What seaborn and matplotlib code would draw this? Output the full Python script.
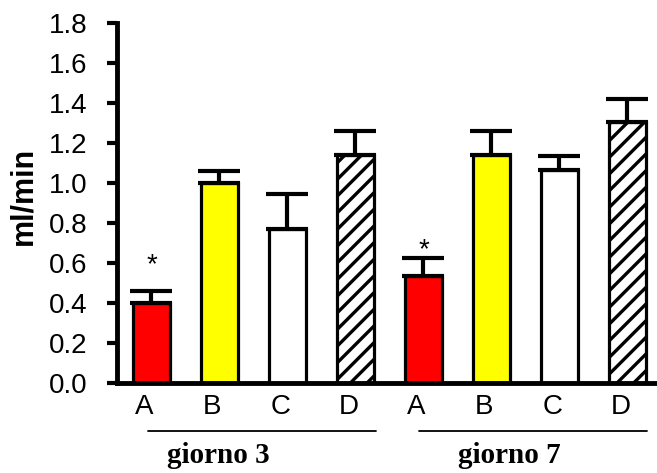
import numpy as np
import pandas as pd
import matplotlib
matplotlib.use("Agg")
import matplotlib.pyplot as plt
from matplotlib import transforms
import seaborn as sns

# Flow (ml/min), mean and upper SEM for each treatment group on two days
days = ["giorno 3", "giorno 7"]
groups = ["A", "B", "C", "D"]
mean_d3 = [0.40, 1.00, 0.77, 1.14]
sem_d3 = [0.06, 0.06, 0.175, 0.12]
mean_d7 = [0.535, 1.14, 1.065, 1.305]
sem_d7 = [0.09, 0.12, 0.07, 0.115]
fills = ["#ff0000", "#ffff00", "#ffffff", "#ffffff"]
hatches = ["", "", "", "//"]
yticks = [0.0, 0.2, 0.4, 0.6, 0.8, 1.0, 1.2, 1.4, 1.6, 1.8]

# significance markers (slot index, height)
star_slots = [0, 4]
star_y = [0.555, 0.63]

# day brackets under the axis (x range in slot units) and label centres
bracket_start = [-0.05, 3.93]
bracket_end = [3.30, 7.28]
day_label_x = [0.98, 5.26]

df = pd.DataFrame({
    "day": np.repeat(days, len(groups)),
    "group": groups * len(days),
    "mean": mean_d3 + mean_d7,
    "sem": sem_d3 + sem_d7,
})
df["slot"] = df["day"] + " " + df["group"]
order = list(df["slot"])

sns.set_style("white")
plt.rcParams["font.family"] = ["Liberation Sans", "DejaVu Sans"]
plt.rcParams["hatch.linewidth"] = 2.4
plt.rcParams["hatch.color"] = "black"
for key in ["text.color", "axes.labelcolor", "xtick.color", "ytick.color",
            "axes.edgecolor"]:
    plt.rcParams[key] = "black"

fig = plt.figure(figsize=(6.57, 4.73), dpi=100)
ax = fig.add_axes([117 / 657, 90 / 473, 540 / 657, 360.3 / 473])

sns.barplot(
    data=df, x="slot", y="mean", order=order, hue="slot", hue_order=order,
    palette=dict(zip(order, fills * len(days))), legend=False,
    width=0.54, edgecolor="black", linewidth=2.3, saturation=1,
    errorbar=None, ax=ax,
)
for patch, h in zip(ax.patches, hatches * len(days)):
    patch.set_hatch(h)

xpos = np.arange(len(order))
ax.errorbar(
    xpos, df["mean"], yerr=[np.zeros(len(order)), df["sem"]],
    fmt="none", ecolor="black", elinewidth=3, capsize=15, capthick=3, zorder=3,
)

for s, y in zip(star_slots, star_y):
    ax.text(xpos[s], y, "*", ha="center", va="baseline", fontsize=20,
            color="black")

ax.set_xlim(-0.507, 7.434)
ax.set_ylim(0, 1.8)
ax.set_yticks(yticks)
ax.set_yticklabels([f"{v:.1f}" for v in yticks])
ax.set_xticks(xpos)
ax.set_xticklabels(groups * len(days))

for side in ["top", "right"]:
    ax.spines[side].set_visible(False)
for side in ["left", "bottom"]:
    ax.spines[side].set_linewidth(3.5)
    ax.spines[side].set_color("black")

ax.tick_params(axis="y", direction="out", length=7, width=3, pad=14,
               labelsize=20, left=True, color="black", labelcolor="black")
ax.tick_params(axis="x", length=0, pad=8, labelsize=20, labelcolor="black")
shift = transforms.ScaledTranslation(-7 / 100, 0, fig.dpi_scale_trans)
for lab in ax.get_xticklabels():
    lab.set_transform(lab.get_transform() + shift)

ax.set_xlabel("")
ax.set_ylabel("ml/min", fontsize=22, fontweight="bold", color="black")
ax.yaxis.set_label_coords(-0.145, 0.519)

blend = transforms.blended_transform_factory(ax.transData, ax.transAxes)
for x0, x1, xl, day in zip(bracket_start, bracket_end, day_label_x, days):
    ax.plot([x0, x1], [-0.133, -0.133], color="black", lw=1.3,
            transform=blend, clip_on=False)
    ax.text(xl, -0.2207, day, transform=blend, ha="center", va="baseline",
            fontsize=21, fontweight="bold", family=["Liberation Serif"],
            color="black")

fig.savefig("out.png", dpi=100)
